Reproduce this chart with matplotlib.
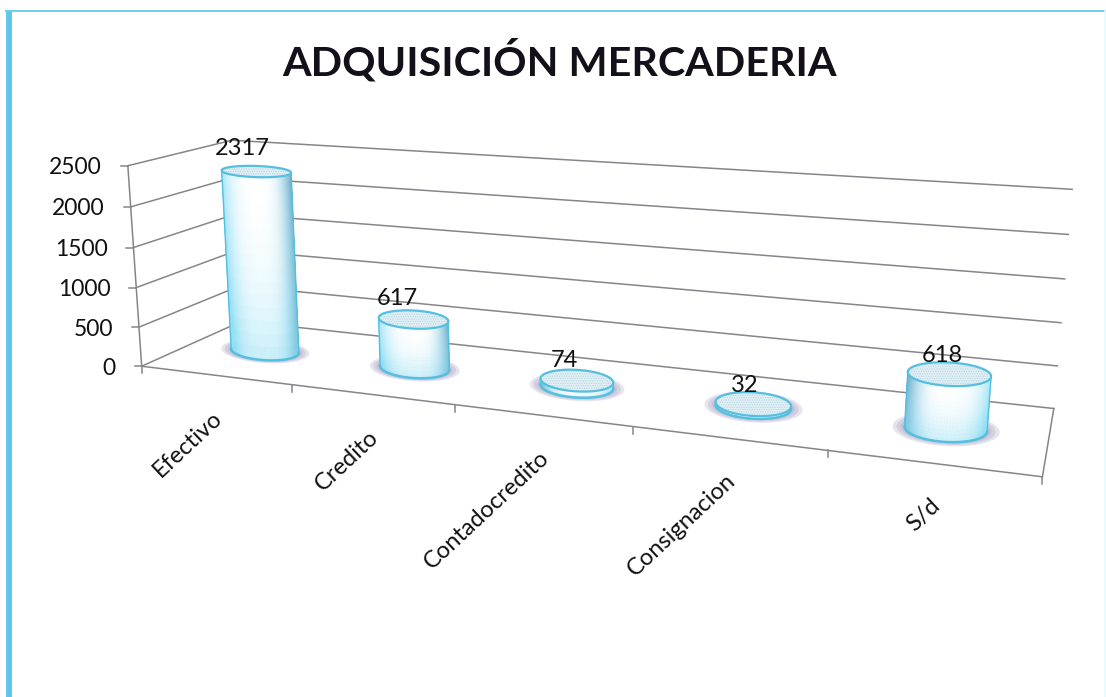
import numpy as np
import matplotlib
matplotlib.use("Agg")
import matplotlib.pyplot as plt
from matplotlib.patches import Polygon
from matplotlib.collections import PolyCollection

plt.rcParams['font.family'] = ['Lato', 'DejaVu Sans']
plt.rcParams['hatch.linewidth'] = 0.5

# ---- data -------------------------------------------------
title = "ADQUISICIÓN MERCADERIA"
categories = ["Efectivo", "Credito", "Contadocredito", "Consignacion", "S/d"]
values = [2317, 617, 74, 32, 618]
y_ticks = [0, 500, 1000, 1500, 2000, 2500]

# ---- style ------------------------------------------------
W, H = 1106, 697
GRID = "#85858b"
EDGE = "#55bfe0"
dark_side = [1, 1, -1, 0, -1]        # which flank is shaded: +1 right, -1 left
bar_ru = [0.235, 0.222, 0.215, 0.205, 0.205]
label_off = [(-14, -23), (-16, -21), (-13, -20), (-9, -19), (-7, -19)]
name_off = (-3, 32)

# ---- scene calibration: axis frame (category, depth, value) -> canvas
frame = [((0, 0, 0), (143, 365)), ((1, 0, 0), (293, 385)), ((2, 0, 0), (456, 405)),
         ((3, 0, 0), (634, 427)), ((4, 0, 0), (827, 452)), ((5, 0, 0), (1042, 476)),
         ((0, 1, 0), (239, 322)), ((5, 1, 0), (1054, 409)),
         ((0, 0, 2500), (126, 166)), ((0, 1, 2500), (236, 141)), ((5, 1, 2500), (1072, 188)),
         ((0.5, 0.5, 2317), (253.5, 171.5)), ((0.5, 0.5, 0), (264, 349))]
A, b = [], []
for (u, z, h), (x, y) in frame:
    h = h / 1000
    A.append([u, z, h, 1, 0, 0, 0, 0, -u * x, -z * x, -h * x]); b.append(x)
    A.append([0, 0, 0, 0, u, z, h, 1, -u * y, -z * y, -h * y]); b.append(y)
P = np.append(np.linalg.lstsq(np.array(A, float), np.array(b, float), rcond=None)[0], 1).reshape(3, 4)


def project(u, z, h):
    u, z, h = np.broadcast_arrays(np.asarray(u, float), np.asarray(z, float), np.asarray(h, float))
    q = np.stack([u, z, h / 1000, np.ones_like(u)])
    r = np.tensordot(P, q, axes=1)
    return r[0] / r[2], r[1] / r[2]


def ring(uc, zc, h, ru, rz, cu, su):
    """Disc outline on the plane at height h, drawn as an ellipse on the canvas."""
    x1, y1 = project(uc - ru, zc, h)
    x2, y2 = project(uc + ru, zc, h)
    _, yb = project(uc, zc + rz, h)
    _, yf = project(uc, zc - rz, h)
    cx, cy = (x1 + x2) / 2, (yb + yf) / 2
    return cx + (x2 - x1) / 2 * cu, cy + (y2 - y1) / 4 * cu + (yf - yb) / 2 * su, cx, cy


fig = plt.figure(figsize=(W / 100, H / 100), dpi=100, facecolor="white")
ax = fig.add_axes([0, 0, 1, 1])
ax.set_xlim(0, W); ax.set_ylim(H, 0); ax.axis("off")

# page frame
ax.plot([8.5, 8.5], [10, H], color="#5cc6ec", lw=4.2, solid_capstyle="butt", zorder=1)
ax.plot([6, W], [10.5, 10.5], color="#6ccdef", lw=1.4, zorder=1)
ax.plot([1104.5, 1104.5], [10, H], color="#e6f8fc", lw=1.2, zorder=1)

# title
ax.text(559, 61, title, ha="center", va="center", fontsize=29.7, fontweight="bold", color="#14101a")


def seg(p, q):
    x, y = project(*zip(p, q))
    ax.plot(x, y, color=GRID, lw=1.1, zorder=2)


# walls, floor and axes
n = len(categories)
for t in y_ticks:
    seg((0, 0, t), (0, 1, t))
    seg((0, 1, t), (n, 1, t))
    x, y = project(0, 0, t)
    ax.plot([x - 7, x], [y, y], color=GRID, lw=1.1, zorder=2)
    ax.text(x - 26, y + 2, str(t), ha="right", va="center", fontsize=16.5, color="#111111", zorder=5)
seg((0, 0, 0), (0, 0, y_ticks[-1]))
seg((0, 0, 0), (n, 0, 0))
seg((n, 0, 0), (n, 1, 0))
for i in range(n + 1):
    x, y = project(i, 0, 0)
    ax.plot([x, x], [y, y + 7], color=GRID, lw=1.1, zorder=2)

# cylinders
theta = np.linspace(0, 2 * np.pi, 97)
cu, su = np.cos(theta), np.sin(theta)
RZ = 0.2
light = np.array([1.0, 1.0, 1.0])
cyan = np.array([0.58, 0.88, 0.96])
steel = np.array([0.40, 0.62, 0.74])

for i, (v, side, RU) in enumerate(zip(values, dark_side, bar_ru)):
    uc, zc = i + 0.5, 0.5
    # floor shadow
    for k, a in zip((1.3, 1.2, 1.1), (0.35, 0.4, 0.5)):
        sx, sy, _, _ = ring(uc, zc, 0, k * RU, k * RZ, cu, su)
        ax.add_patch(Polygon(np.c_[sx, sy], closed=True, fc="#b9b3cd", ec="none", alpha=a, zorder=3))
    bx, by, _, _ = ring(uc, zc, 0, RU, RZ, cu, su)
    tx, ty, cx, cy = ring(uc, zc, v, RU, RZ, cu, su)
    polys, cols = [], []
    levels = np.linspace(0, 1, 15)
    for j in np.argsort(su[:-1] + su[1:]):
        s = (cu[j] + cu[j + 1]) / 2
        for a, c in zip(levels[:-1], levels[1:]):
            p0 = (bx[j] + (tx[j] - bx[j]) * a, by[j] + (ty[j] - by[j]) * a)
            p1 = (bx[j + 1] + (tx[j + 1] - bx[j + 1]) * a, by[j + 1] + (ty[j + 1] - by[j + 1]) * a)
            p2 = (bx[j + 1] + (tx[j + 1] - bx[j + 1]) * c, by[j + 1] + (ty[j + 1] - by[j + 1]) * c)
            p3 = (bx[j] + (tx[j] - bx[j]) * c, by[j] + (ty[j] - by[j]) * c)
            polys.append([p0, p1, p2, p3])
            base = 1 - (a + c) / 2
            col = light + (cyan - light) * np.clip(0.5 * base ** 2 + 0.85 * abs(s) ** 3, 0, 1)
            if side * s > 0:
                col = col + (steel - col) * np.clip(abs(s) ** 4 * 0.8 * (0.45 + 0.55 * (1 - base)), 0, 1)
            cols.append(col)
    ax.add_collection(PolyCollection(polys, facecolors=cols, edgecolors=cols, linewidths=0.3, zorder=4))
    # silhouette and faces
    for j in (0, 48):
        ax.plot([bx[j], tx[j]], [by[j], ty[j]], color=EDGE, lw=1.0, zorder=5)
    ax.plot(bx[:49], by[:49], color=EDGE, lw=1.8, zorder=5)
    ax.add_patch(Polygon(np.c_[tx, ty], closed=True, fc="#e0eff5", ec="none", zorder=5))
    ax.add_patch(Polygon(np.c_[tx, ty], closed=True, fc="none", ec="#b4d3df", lw=0, hatch=".......", zorder=5))
    ax.add_patch(Polygon(np.c_[tx, ty], closed=True, fc="none", ec=EDGE, lw=1.6, zorder=5))
    ax.text(cx + label_off[i][0], cy + label_off[i][1], str(v), ha="center", va="center",
            fontsize=17, color="#111111", zorder=6)
    fx, fy = project(uc, 0, 0)
    ax.text(fx + name_off[0], fy + name_off[1], categories[i], rotation=43, ha="right", va="top",
            rotation_mode="anchor", fontsize=17, color="#111111", zorder=6)

fig.savefig("out.png", dpi=100, facecolor="white")
